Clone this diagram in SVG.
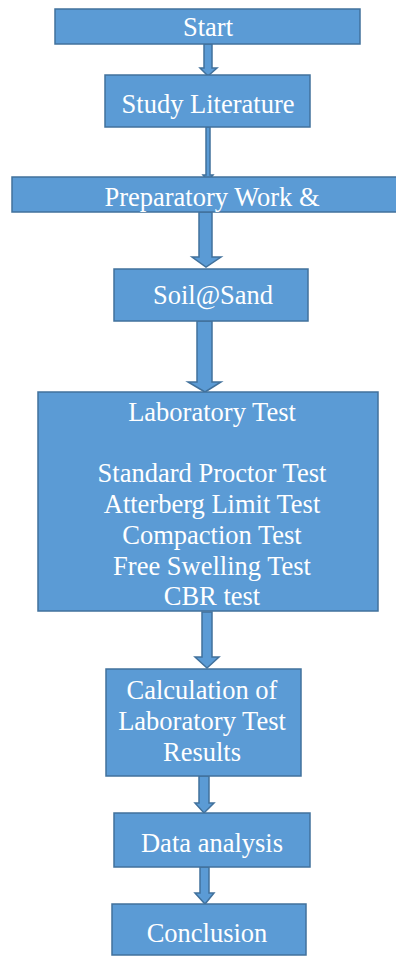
<svg xmlns="http://www.w3.org/2000/svg" width="396" height="956" viewBox="0 0 396 956">
<style>
.box{fill:#5B9BD5;stroke:#41719C;stroke-width:1.5}
.arr{fill:#5B9BD5;stroke:#41719C;stroke-width:1.5;stroke-linejoin:miter}
.t{font-family:'Liberation Serif','Times New Roman',Times,serif;font-size:26.5px;fill:#FFFFFF;text-anchor:middle}
</style>
<rect width="396" height="956" fill="#FFFFFF"/>
<g id="connectors">
<polygon class="arr" points="204,44 212,44 212,68 217,68 208,76 200,68 204,68"/>
<polygon class="arr" points="206,127 210,127 210,175 213,175 208,181 203,175 206,175"/>
<polygon class="arr" points="199,212 212,212 212,257 221,257 206,267 192,257 199,257"/>
<polygon class="arr" points="197,321 212,321 212,382 221,382 205,392 188,382 197,382"/>
<polygon class="arr" points="202,612 212,612 212,657 219,657 207,668 195,657 202,657"/>
<polygon class="arr" points="199,776 209,776 209,803 214,803 204,813 195,803 199,803"/>
<polygon class="arr" points="200,867 209,867 209,893 214,893 205,904 195,893 200,893"/>
</g>
<g id="start"><rect class="box" x="55" y="9" width="305" height="35"/><text class="t" font-family="Liberation Serif, serif" x="208" y="36">Start</text></g>
<g id="study"><rect class="box" x="105" y="75" width="205" height="52"/><text class="t" x="208" y="113">Study Literature</text></g>
<g id="prep"><rect class="box" x="12" y="177" width="386" height="35"/><text class="t" x="212" y="206">Preparatory Work &amp;</text></g>
<g id="soil"><rect class="box" x="114" y="269" width="194" height="52"/><text class="t" x="213" y="304">Soil@Sand</text></g>
<g id="lab"><rect class="box" x="38" y="392" width="340" height="219"/>
<text class="t" x="212" y="421">Laboratory Test</text>
<text class="t" x="212" y="482">Standard Proctor Test</text>
<text class="t" x="212" y="513">Atterberg Limit Test</text>
<text class="t" x="212" y="544">Compaction Test</text>
<text class="t" x="212" y="575">Free Swelling Test</text>
<text class="t" x="212" y="605">CBR test</text>
</g>
<g id="calc"><rect class="box" x="106" y="669" width="195" height="107"/>
<text class="t" x="202" y="699">Calculation of</text>
<text class="t" x="202" y="730">Laboratory Test</text>
<text class="t" x="202" y="761">Results</text>
</g>
<g id="data"><rect class="box" x="114" y="813" width="196" height="54"/><text class="t" x="212" y="852">Data analysis</text></g>
<g id="conclusion"><rect class="box" x="112" y="904" width="194" height="51"/><text class="t" x="207" y="942">Conclusion</text></g>
</svg>
